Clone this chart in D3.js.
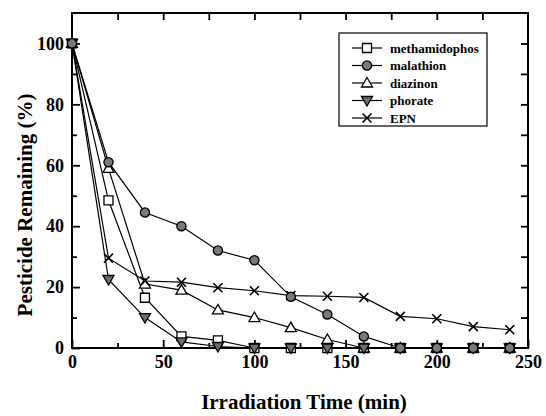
<!DOCTYPE html>
<html>
<head>
<meta charset="utf-8">
<script src="https://cdn.jsdelivr.net/npm/d3@7"></script>
<style>
  body { margin: 0; background: #fff; }
  svg text { font-family: "Liberation Serif", "DejaVu Serif", serif; }
</style>
</head>
<body>
<svg id="chart" width="546" height="416"></svg>
<script>
// sampling times (min)
var times = [0, 20, 40, 60, 80, 100, 120, 140, 160, 180, 200, 220, 240];

// remaining pesticide (%)
var methamidophos = [100, 48.5, 16.5, 3.8, 2.5, 0, 0, 0, 0, 0, 0, 0, 0];
var malathion     = [100, 61, 44.5, 40, 32, 28.8, 16.8, 11, 3.8, 0, 0, 0, 0];
var diazinon      = [100, 59, 21, 19, 12.5, 10, 6.7, 2.8, 0, 0, 0, 0, 0];
var phorate       = [100, 22.5, 10, 2, 0.5, 0, 0, 0, 0, 0, 0, 0, 0];
var epn           = [100, 29.5, 22, 21.6, 19.8, 18.8, 17.2, 17, 16.6, 10.4, 9.6, 7, 6];

var seriesNames = ["methamidophos", "malathion", "diazinon", "phorate", "EPN"];
var xTicks = [0, 50, 100, 150, 200, 250];
var yTicks = [0, 20, 40, 60, 80, 100];

var margin = {left: 72, top: 13, right: 18, bottom: 68};
var W = 546, H = 416;

var svg = d3.select("#chart");

var x = d3.scaleLinear().domain([0, 250]).range([margin.left, W - margin.right]);
var y = d3.scaleLinear().domain([0, 110]).range([H - margin.bottom, margin.top]);

// marker paths
var markers = {
  square:  "M-4.5,-4.5H4.5V4.5H-4.5Z",
  circle:  d3.symbol().type(d3.symbolCircle).size(66)(),
  tri:     "M0,-5.5L5.5,4L-5.5,4Z",
  triDown: "M0,5.5L5.5,-4L-5.5,-4Z",
  cross:   "M-4.5,-4.5L4.5,4.5M-4.5,4.5L4.5,-4.5"
};

var series = [
  {name: "methamidophos", values: methamidophos, mark: "square",  fill: "#fff"},
  {name: "diazinon",      values: diazinon,      mark: "tri",     fill: "#fff"},
  {name: "EPN",           values: epn,           mark: "cross",   fill: "none"},
  {name: "phorate",       values: phorate,       mark: "triDown", fill: "#6e6e6e"},
  {name: "malathion",     values: malathion,     mark: "circle",  fill: "#7a7a7a"}
];

// plot edges
var pBottom = H - margin.bottom, pLeft = margin.left;
var pRight = W - margin.right, pTop = margin.top;

// axes, ticks pointing inward
svg.append("g")
  .attr("transform", "translate(0," + pBottom + ")")
  .call(d3.axisBottom(x).tickValues(xTicks).tickSize(-8).tickSizeOuter(0).tickPadding(7))
  .call(function(g){ g.select(".domain").remove(); })
  .selectAll("text")
    .attr("font-size", 18).attr("font-weight", "bold").attr("fill", "#000");

svg.append("g")
  .attr("transform", "translate(0," + pBottom + ")")
  .call(d3.axisBottom(x).tickValues([25, 75, 125, 175, 225]).tickSize(-5).tickFormat(""))
  .call(function(g){ g.select(".domain").remove(); });

svg.append("g")
  .attr("transform", "translate(0," + pTop + ")")
  .call(d3.axisTop(x).tickValues(d3.range(25, 250, 25)).tickSize(-7).tickFormat(""))
  .call(function(g){ g.select(".domain").remove(); });

svg.append("g")
  .attr("transform", "translate(" + pLeft + ",0)")
  .call(d3.axisLeft(y).tickValues(yTicks).tickSize(-8).tickSizeOuter(0).tickPadding(8))
  .call(function(g){ g.select(".domain").remove(); })
  .selectAll("text")
    .attr("font-size", 18).attr("font-weight", "bold").attr("fill", "#000");

svg.append("g")
  .attr("transform", "translate(" + pLeft + ",0)")
  .call(d3.axisLeft(y).tickValues([10, 30, 50, 70, 90]).tickSize(-5).tickFormat(""))
  .call(function(g){ g.select(".domain").remove(); });

svg.append("g")
  .attr("transform", "translate(" + pRight + ",0)")
  .call(d3.axisRight(y).tickValues(d3.range(10, 110, 10)).tickSize(-7).tickFormat(""))
  .call(function(g){ g.select(".domain").remove(); });

svg.selectAll(".tick line").attr("stroke", "#000").attr("stroke-width", 1.8);

// frame
svg.append("rect")
  .attr("x", pLeft).attr("y", pTop)
  .attr("width", pRight - pLeft).attr("height", pBottom - pTop)
  .attr("fill", "none").attr("stroke", "#000").attr("stroke-width", 2);

// lines + markers
var line = d3.line()
  .x(function(d, i){ return x(times[i]); })
  .y(function(d){ return y(d); });

series.forEach(function(s){
  svg.append("path")
    .attr("d", line(s.values))
    .attr("fill", "none").attr("stroke", "#000").attr("stroke-width", 1.2);
});

series.forEach(function(s){
  svg.append("g").selectAll("path")
    .data(s.values)
    .enter()
    .append("path")
    .attr("d", markers[s.mark])
    .attr("transform", function(d, i){
      return "translate(" + x(times[i]) + "," + y(d) + ")"; })
    .attr("fill", s.fill)
    .attr("stroke", "#000")
    .attr("stroke-width", s.mark == "cross" ? 1.6 : 1.3);
});

// axis titles
svg.append("text")
  .attr("x", (pLeft + pRight) / 2 + 4).attr("y", 409)
  .attr("text-anchor", "middle")
  .attr("font-size", 21).attr("font-weight", "bold")
  .text("Irradiation Time (min)");

svg.append("text")
  .attr("transform", "translate(32,205) rotate(-90)")
  .attr("text-anchor", "middle")
  .attr("font-size", 21).attr("font-weight", "bold")
  .text("Pesticide Remaining (%)");

// legend
var legend = svg.append("g");
legend.append("rect")
  .attr("x", 339).attr("y", 33).attr("width", 148).attr("height", 93)
  .attr("fill", "#fff").attr("stroke", "#000").attr("stroke-width", 1.2);

var legendOrder = seriesNames.map(function(n){
  return series.find(function(s){ return s.name == n; });
});

var rows = legend.selectAll("g.row")
  .data(legendOrder)
  .enter()
  .append("g")
  .attr("transform", function(d, i){ return "translate(0," + (48 + i * 17.5) + ")"; });

rows.append("line")
  .attr("x1", 352).attr("x2", 382)
  .attr("stroke", "#000").attr("stroke-width", 1.2);
rows.append("path")
  .attr("d", function(d){ return markers[d.mark]; })
  .attr("transform", "translate(367,0)")
  .attr("fill", function(d){ return d.fill; })
  .attr("stroke", "#000")
  .attr("stroke-width", function(d){ return d.mark == "cross" ? 1.6 : 1.3; });
rows.append("text")
  .attr("x", 390).attr("y", 4.5)
  .attr("font-size", 13).attr("font-weight", "bold")
  .text(function(d){ return d.name; });
</script>
</body>
</html>
